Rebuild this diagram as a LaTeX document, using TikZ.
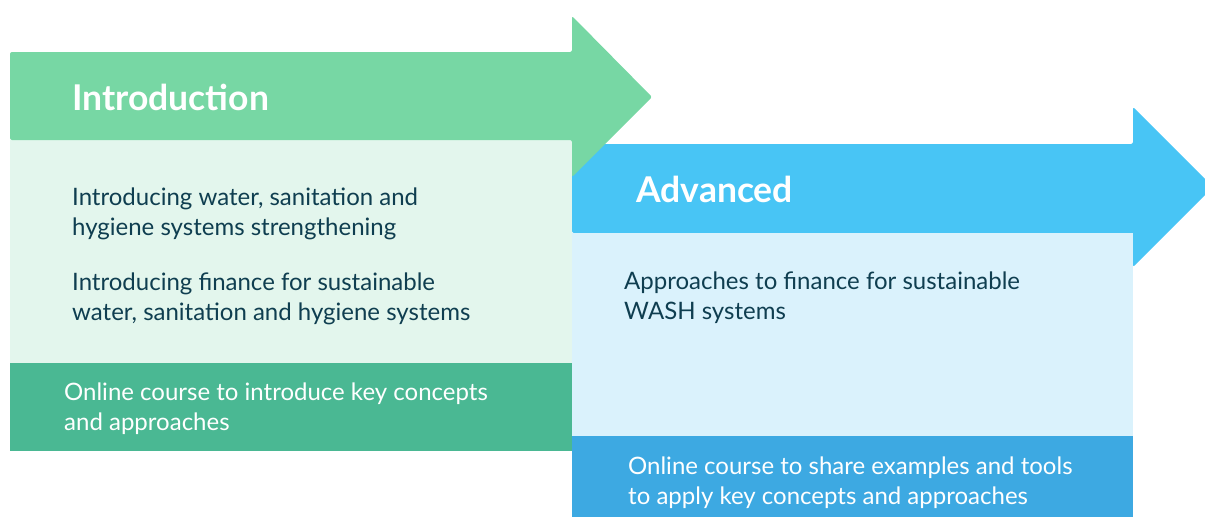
\documentclass[tikz,border=0pt]{standalone}
\usepackage{fontspec}
\setmainfont{Lato}
\definecolor{gHead}{HTML}{77D7A4}
\definecolor{gBody}{HTML}{E3F6ED}
\definecolor{gFoot}{HTML}{4AB893}
\definecolor{bHead}{HTML}{48C5F5}
\definecolor{bBody}{HTML}{DAF2FC}
\definecolor{bFoot}{HTML}{3DA9E2}
\definecolor{ink}{HTML}{0F3E50}
\tikzset{
  headtxt/.style={anchor=base west, inner sep=0pt, text=white, font=\fontsize{35.5}{38}\selectfont\bfseries},
  bodytxt/.style={anchor=base west, inner sep=0pt, text=ink, align=left, font=\fontsize{24}{30}\selectfont},
  foottxt/.style={anchor=base west, inner sep=0pt, text=white, align=left, font=\fontsize{24}{30}\selectfont},
}
\begin{document}
\begin{tikzpicture}[x=1pt,y=-1pt]
\useasboundingbox (0,0) rectangle (1205,517);
% blue (behind)
\fill[bHead, rounded corners=2pt] (572,144) -- (1133,144) -- (1133,107) -- (1213,187) -- (1133,267) -- (1133,233) -- (572,233) -- cycle;
\fill[bBody] (572,233) rectangle (1133,436);
\fill[bFoot] (572,436) rectangle (1133,517);
% green
\fill[gBody] (10,140) rectangle (572,363);
\fill[gFoot] (10,363) rectangle (572,451);
\fill[gHead, rounded corners=2pt] (10,52) -- (572,52) -- (572,16) -- (652,97) -- (572,177) -- (572,140) -- (10,140) -- cycle;
% texts (base anchor = baseline of last line)
\node[headtxt] (introH) at (72,110) {Introduction};
\node[bodytxt] (introA) at (72,235) {Introducing water, sanitation and\\hygiene systems strengthening};
\node[bodytxt] (introB) at (72,320) {Introducing finance for sustainable\\water, sanitation and hygiene systems};
\node[foottxt] (introF) at (64,430) {Online course to introduce key concepts\\and approaches};
\node[headtxt] (advH) at (636,202) {Advanced};
\node[bodytxt] (advA) at (624,319) {Approaches to finance for sustainable\\WASH systems};
\node[foottxt] (advF) at (628,504) {Online course to share examples and tools\\to apply key concepts and approaches};
\end{tikzpicture}
\end{document}
